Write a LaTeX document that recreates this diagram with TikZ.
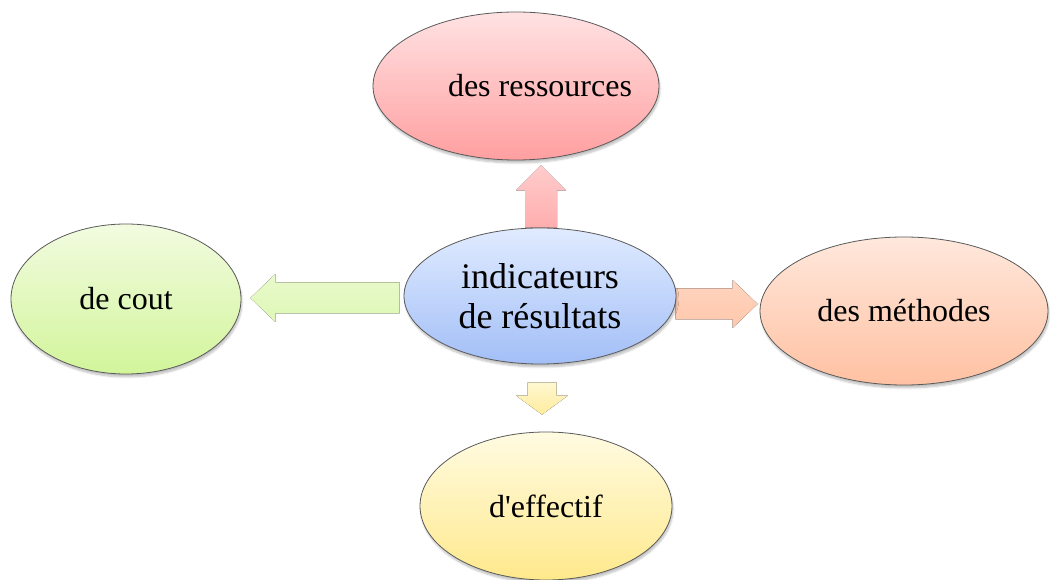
\documentclass[tikz,border=0pt]{standalone}
\usepackage{fontspec}
\setmainfont{Liberation Serif}
\usetikzlibrary{shapes.geometric,calc,backgrounds,shadows.blur}

\definecolor{redTop}{HTML}{FFE2E3}
\definecolor{redBot}{HTML}{FF9FA0}
\definecolor{blueTop}{HTML}{E0EBFF}
\definecolor{blueBot}{HTML}{A3BFF7}
\definecolor{greenTop}{HTML}{F2FBE0}
\definecolor{greenBot}{HTML}{D2F59B}
\definecolor{peachTop}{HTML}{FFE8DC}
\definecolor{peachBot}{HTML}{FFC1A2}
\definecolor{yellowTop}{HTML}{FFFBE2}
\definecolor{yellowBot}{HTML}{FFE98C}
\definecolor{rimGray}{HTML}{5A5A5A}

\tikzset{
  bubble/.style={ellipse, draw=rimGray, line width=0.8pt, inner sep=0pt,
    font=\fontsize{32}{36}\selectfont, align=center,
    blur shadow={shadow xshift=1pt, shadow yshift=-3pt, shadow blur steps=6, shadow opacity=25}},
  hub/.style={bubble, font=\fontsize{36}{40}\selectfont},
  caption/.style={font=\fontsize{32}{36}\selectfont, inner sep=0pt},
}

% block arrow from #1 to #2: shaft half width #3, head half width #4, head length #5
\newcommand\blockarrow[6]{%
  \coordinate (ba-h) at ($(#2)!#5!(#1)$);
  \fill[#6] ($(#1)!#3!90:(#2)$) -- ($(ba-h)!#3!90:(#2)$) -- ($(ba-h)!#4!90:(#2)$)
    -- (#2) -- ($(ba-h)!#4!-90:(#2)$) -- ($(ba-h)!#3!-90:(#2)$)
    -- ($(#1)!#3!-90:(#2)$) -- cycle;}

\begin{document}
\begin{tikzpicture}[x=1pt, y=1pt]
  \useasboundingbox (0,0) rectangle (1050,579);

  % central concept
  \node[hub, minimum width=272pt, minimum height=136pt,
        top color=blueTop, bottom color=blueBot] (C) at (540,283)
        {indicateurs\\de résultats};

  % surrounding concepts
  \node[bubble, minimum width=286pt, minimum height=148pt,
        top color=redTop, bottom color=redBot] (T) at (516,493) {};
  \node[caption] (Tlbl) at ($(T.center)+(24,0)$) {des ressources};
  \node[bubble, minimum width=230pt, minimum height=150pt,
        top color=greenTop, bottom color=greenBot] (L) at (126,280) {de cout};
  \node[bubble, minimum width=288pt, minimum height=148pt,
        top color=peachTop, bottom color=peachBot] (R) at (904,268) {des méthodes};
  \node[bubble, minimum width=252pt, minimum height=148pt,
        top color=yellowTop, bottom color=yellowBot] (B) at (546,73) {d\textquotesingle effectif};

  % block arrows, placed behind the ellipses
  \begin{scope}[on background layer]
    \coordinate (upS) at ($(C.north)+(1,0)$);
    \coordinate (upE) at ($(T.south)+(25,-5)$);
    \coordinate (upE) at (upS |- upE);
    \blockarrow{upS}{upE}{16pt}{25pt}{25pt}{top color=red!20!white, bottom color=red!32!white}

    \coordinate (dnS) at ($(C.south)+(2,-18)$);
    \coordinate (dnE) at ($(B.north)+(-4,17)$);
    \coordinate (dnE) at (dnS |- dnE);
    \blockarrow{dnS}{dnE}{14.5pt}{26pt}{19pt}{top color=yellowTop!80!yellowBot, bottom color=yellowBot!85!white}

    \coordinate (lfS) at ($(C.west)+(-4,-2)$);
    \coordinate (lfE) at ($(L.east)+(9,0)$);
    \coordinate (lfE) at (lfE |- lfS);
    \blockarrow{lfS}{lfE}{15.5pt}{24pt}{25pt}{top color=greenTop!70!greenBot, bottom color=greenTop!40!greenBot}

    \coordinate (rtS) at ($(C.east)+(-1,-8)$);
    \coordinate (rtE) at ($(R.west)+(-2,0)$);
    \coordinate (rtE) at (rtE |- rtS);
    \blockarrow{rtS}{rtE}{15.5pt}{24pt}{25pt}{top color=peachTop!50!peachBot, bottom color=peachBot!90!white}
  \end{scope}
\end{tikzpicture}
\end{document}
